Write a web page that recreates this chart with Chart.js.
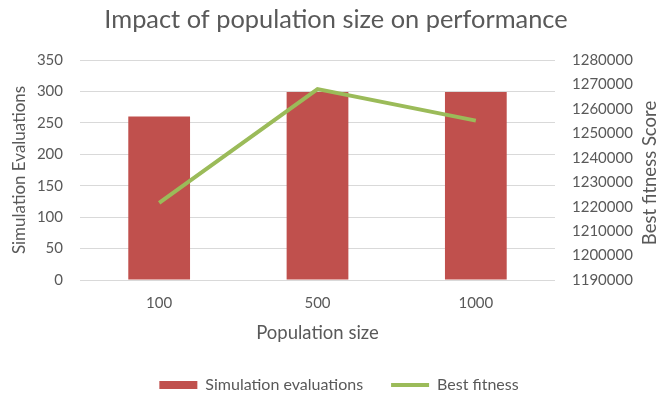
<!DOCTYPE html>
<html>
<head>
<meta charset="utf-8">
<script src="https://cdn.jsdelivr.net/npm/chart.js@4"></script>
<style>
html,body{margin:0;padding:0;background:#fff;}
#wrap{width:658px;height:394px;position:relative;}
</style>
</head>
<body>
<div id="wrap"><canvas id="c" width="658" height="394"></canvas></div>
<script>
const categories = ['100', '500', '1000'];
const simulationEvaluations = [260, 299, 299];
const bestFitness = [1221600, 1268100, 1255200];
const leftTicks = [0, 50, 100, 150, 200, 250, 300, 350];
const rightTicks = [1190000, 1200000, 1210000, 1220000, 1230000, 1240000, 1250000, 1260000, 1270000, 1280000];

const FONT = "Lato, 'Open Sans', sans-serif";
const TXT = '#595959';

const tweakPlugin = {
  id: 'tweak',
  afterLayout(chart) {
    // offsets of legend and title as in the reference
    if (chart.legend) { chart.legend.left += 10; chart.legend.right += 10; }
    if (chart.titleBlock) { chart.titleBlock.left += 7; chart.titleBlock.right += 7; }
  },
  afterDraw(chart) {
    const ctx = chart.ctx;
    const a = chart.chartArea;
    ctx.save();
    ctx.font = '18.5px ' + FONT;
    ctx.fillStyle = TXT;
    ctx.textAlign = 'center';
    ctx.textBaseline = 'middle';
    ctx.translate(650, (a.top + a.bottom) / 2 + 3);
    ctx.rotate(-Math.PI / 2);
    ctx.fillText('Best fitness Score', 0, 0);
    ctx.restore();
  }
};

new Chart(document.getElementById('c'), {
  type: 'bar',
  data: {
    labels: categories,
    datasets: [
      {
        label: 'Simulation evaluations',
        data: simulationEvaluations,
        backgroundColor: '#C0504D',
        borderWidth: 0,
        barPercentage: 0.39,
        categoryPercentage: 1,
        yAxisID: 'y',
        order: 1,
        pointStyle: 'rect'
      },
      {
        type: 'line',
        label: 'Best fitness',
        data: bestFitness,
        borderColor: '#9BBB59',
        backgroundColor: '#9BBB59',
        borderWidth: 4,
        pointRadius: 0,
        tension: 0,
        yAxisID: 'y1',
        order: 0,
        pointStyle: 'line'
      }
    ]
  },
  options: {
    responsive: false,
    animation: false,
    devicePixelRatio: 1,
    layout: { padding: { left: 0, right: 0, top: 0, bottom: -9 } },
    plugins: {
      title: {
        display: true,
        text: 'Impact of population size on performance',
        color: TXT,
        font: { family: FONT, size: 25.4, weight: 'normal', lineHeight: 1.2 },
        padding: { top: 4.76, bottom: 24.76 }
      },
      legend: {
        position: 'bottom',
        labels: {
          usePointStyle: true,
          pointStyleWidth: 38,
          boxHeight: 8,
          padding: 28,
          color: TXT,
          font: { family: FONT, size: 16 },
          sort: (a, b) => a.datasetIndex - b.datasetIndex
        }
      },
      tooltip: { enabled: false }
    },
    scales: {
      x: {
        grid: { display: false, drawTicks: false },
        border: { display: false },
        ticks: { color: TXT, font: { family: FONT, size: 15 }, padding: 14 },
        title: {
          display: true,
          text: 'Population size',
          color: TXT,
          font: { family: FONT, size: 18.5, lineHeight: 1.2 },
          padding: { top: 0, bottom: 4.9 }
        },
        afterFit(s) { s.height = 69; }
      },
      y: {
        position: 'left',
        min: 0,
        max: 350,
        afterBuildTicks(s) { s.ticks = leftTicks.map(v => ({ value: v })); },
        grid: { color: '#D9D9D9', drawTicks: false, lineWidth: 1 },
        border: { display: false },
        ticks: { color: TXT, font: { family: FONT, size: 15 }, padding: 17 },
        title: {
          display: true,
          text: 'Simulation Evaluations',
          color: TXT,
          font: { family: FONT, size: 17, lineHeight: 1.2 },
          padding: { top: 9.8, bottom: 0 }
        },
        afterFit(s) { s.width = 80; }
      },
      y1: {
        position: 'right',
        min: 1190000,
        max: 1280000,
        afterBuildTicks(s) { s.ticks = rightTicks.map(v => ({ value: v })); },
        grid: { display: false, drawTicks: false },
        border: { display: false },
        ticks: {
          color: TXT,
          font: { family: FONT, size: 15 },
          padding: 17,
          callback: (v) => String(v)
        },
        afterFit(s) { s.width = 103; }
      }
    }
  },
  plugins: [tweakPlugin]
});
</script>
</body>
</html>
